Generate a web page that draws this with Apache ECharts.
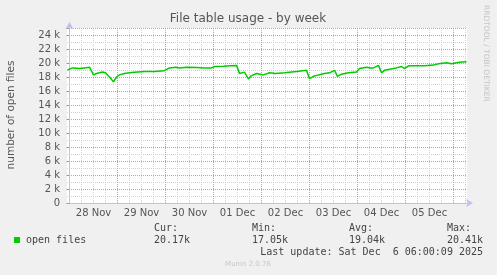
<!DOCTYPE html>
<html>
<head>
<meta charset="utf-8">
<script src="https://cdn.jsdelivr.net/npm/echarts@6/dist/echarts.min.js"></script>
<style>
html,body{margin:0;padding:0;background:#f0f0f0;}
#c{width:497px;height:275px;}
</style>
</head>
<body>
<div id="c"></div>
<script>
// ---- data ----
// x: hours since 28 Nov 00:00, y: number of open files
var hoursSince28Nov = [-1, 1.5, 5, 7.5, 10, 11, 12, 13.5, 15, 16.5, 18, 19, 20, 21, 22, 23.5, 25, 27.5, 30, 32.5, 37.5, 42.5, 47.5,
  48.5, 50, 53, 55, 58.5, 63.5, 64.5, 67.5, 71, 72.5, 77, 80, 83.5, 85, 87.5, 88.5, 89.5, 91, 93.5, 97, 100,
  103, 107.5, 113.5, 118.5, 120, 122, 124.5, 127.5, 130, 132.5, 134, 136, 139.5, 143.5, 145, 148.5,
  150.5, 152, 154.5, 156, 157.5, 160, 163.5, 166, 167.5, 169.5, 173.5, 177.5, 182, 184.5, 188.5, 191, 193.5, 196, 198.5];
var openFiles = [19000, 19300, 19200, 19300, 19400, 19450, 18300, 18500, 18600, 18700, 18600, 18400, 18000, 17800, 17300, 18000, 18300, 18500, 18600, 18670, 18800, 18800, 18900,
  18860, 19300, 19400, 19300, 19400, 19350, 19600, 19300, 19300, 19500, 19550, 19600, 19660, 18500, 18700, 18800, 17700, 18200, 18500, 18300, 18600,
  18500, 18600, 18800, 18950, 17760, 18100, 18300, 18500, 18600, 18950, 18100, 18400, 18600, 18700, 19200, 19400,
  19300, 19300, 19660, 18600, 18950, 19100, 19300, 19500, 19200, 19600, 19600, 19600, 19700, 19900, 20050, 19900, 20050, 20140, 20170];
var dayLabels = ['28 Nov', '29 Nov', '30 Nov', '01 Dec', '02 Dec', '03 Dec', '04 Dec', '05 Dec'];
var dayLabelHours = [12, 36, 60, 84, 108, 132, 156, 180];
var dayBoundaryHours = [0, 24, 48, 72, 96, 120, 144, 168, 192];
var sixHourHours = [];
for (var d = -24; d < 200; d += 24) { [6, 12, 18].forEach(function (o) { var h = d + o; if (h > -1 && h < 199) sixHourHours.push(h); }); }
var stats = { cur: '20.17k', min: '17.05k', avg: '19.04k', max: '20.41k' };

var chart = echarts.init(document.getElementById('c'), null, { renderer: 'canvas' });
var mono = "10px 'DejaVu Sans Mono', monospace";
var minorColor = '#d0d0d0', majorColor = '#f28c8c';
var X_MIN = -1.25, X_MAX = 198.75;
var G = { left: 67, top: 28, width: 400, height: 175 };

chart.setOption({
  animation: false,
  backgroundColor: '#f0f0f0',
  grid: { left: G.left, top: G.top, width: G.width, height: G.height, show: false },
  xAxis: [
    {
      type: 'value', min: X_MIN, max: X_MAX, z: 3,
      axisLine: { show: true, lineStyle: { color: '#c0c0f0', width: 1 }, symbol: ['none', 'arrow'], symbolSize: [6, 7], symbolOffset: [0, 6] },
      axisTick: { show: false, customValues: dayBoundaryHours },
      splitLine: { show: true, lineStyle: { color: majorColor, type: [1, 1], width: 1 } },
      axisLabel: {
        customValues: dayLabelHours, margin: 5, color: '#555', fontFamily: 'DejaVu Sans', fontSize: 10,
        formatter: function (v) { var i = dayLabelHours.indexOf(v); return i >= 0 ? dayLabels[i] : ''; }
      }
    },
    {
      type: 'value', min: X_MIN, max: X_MAX, z: 2, position: 'bottom',
      axisLine: { show: false },
      axisTick: { show: false, customValues: sixHourHours },
      axisLabel: { show: false },
      splitLine: { show: true, lineStyle: { color: minorColor, type: [1, 1], width: 1 } }
    }
  ],
  yAxis: {
    type: 'value', min: 0, max: 25000, interval: 2000, z: 3,
    axisLine: { show: true, lineStyle: { color: '#c0c0f0', width: 1 }, symbol: ['none', 'arrow'], symbolSize: [6, 7], symbolOffset: [0, 6] },
    axisTick: { show: true, length: 3, lineStyle: { color: '#999' } },
    minorTick: { show: false, splitNumber: 2 },
    splitLine: { show: true, lineStyle: { color: majorColor, type: [1, 1], width: 1 } },
    minorSplitLine: { show: true, lineStyle: { color: minorColor, type: [1, 1], width: 1 } },
    axisLabel: {
      margin: 7, color: '#555', fontFamily: 'DejaVu Sans', fontSize: 10,
      formatter: function (v) { return v === 0 ? '0' : (v > 24000 ? '' : (v / 1000) + ' k'); }
    }
  },
  series: [
    {
      name: 'open files', type: 'line', z: 5, showSymbol: false, xAxisIndex: 0,
      data: hoursSince28Nov.map(function (h, i) { return [h, openFiles[i]]; }),
      lineStyle: { color: '#00cc00', width: 1.5 }, itemStyle: { color: '#00cc00' }
    }
  ],
  graphic: [
    { type: 'rect', z: -100, silent: true, shape: { x: G.left, y: G.top, width: G.width, height: G.height }, style: { fill: '#ffffff' } },
    { type: 'text', x: 248, y: 19, style: { text: 'File table usage - by week', font: "12px 'DejaVu Sans'", fill: '#555', textAlign: 'center', textVerticalAlign: 'middle' } },
    { type: 'text', x: 11, y: 115, rotation: Math.PI / 2, style: { text: 'number of open files', font: "10.5px 'DejaVu Sans'", fill: '#555', textAlign: 'center', textVerticalAlign: 'middle' } },
    { type: 'text', x: 486, y: 5, rotation: -Math.PI / 2, style: { text: 'RRDTOOL / TOBI OETIKER', font: "7.5px 'DejaVu Sans'", fill: '#c4c4c4', textAlign: 'left', textVerticalAlign: 'middle' } },
    { type: 'rect', shape: { x: 14, y: 237, width: 6, height: 6 }, style: { fill: '#00cc00' } },
    { type: 'text', x: 26, y: 240, style: { text: 'open files', font: mono, fill: '#444', textVerticalAlign: 'middle' } },
    { type: 'text', x: 154, y: 228, style: { text: 'Cur:', font: mono, fill: '#444', textVerticalAlign: 'middle' } },
    { type: 'text', x: 154, y: 240, style: { text: stats.cur, font: mono, fill: '#444', textVerticalAlign: 'middle' } },
    { type: 'text', x: 252, y: 228, style: { text: 'Min:', font: mono, fill: '#444', textVerticalAlign: 'middle' } },
    { type: 'text', x: 252, y: 240, style: { text: stats.min, font: mono, fill: '#444', textVerticalAlign: 'middle' } },
    { type: 'text', x: 349, y: 228, style: { text: 'Avg:', font: mono, fill: '#444', textVerticalAlign: 'middle' } },
    { type: 'text', x: 349, y: 240, style: { text: stats.avg, font: mono, fill: '#444', textVerticalAlign: 'middle' } },
    { type: 'text', x: 447, y: 228, style: { text: 'Max:', font: mono, fill: '#444', textVerticalAlign: 'middle' } },
    { type: 'text', x: 447, y: 240, style: { text: stats.max, font: mono, fill: '#444', textVerticalAlign: 'middle' } },
    { type: 'text', x: 483, y: 252, style: { text: 'Last update: Sat Dec  6 06:00:09 2025', font: mono, fill: '#444', textAlign: 'right', textVerticalAlign: 'middle' } },
    { type: 'text', x: 248, y: 264, style: { text: 'Munin 2.0.76', font: "7px 'DejaVu Sans'", fill: '#c8c8c8', textAlign: 'center', textVerticalAlign: 'middle' } }
  ]
});
</script>
</body>
</html>
